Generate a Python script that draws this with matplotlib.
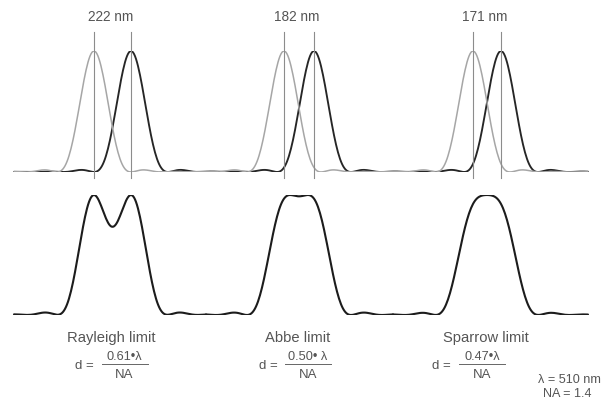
import matplotlib.pyplot as plt
import numpy as np

plt.rcParams['font.family'] = ['Liberation Sans', 'DejaVu Sans']

# intensity of a single point image, read every 6 nm outward from its centre
step_nm = 6
psf = [1.0000, 0.9973, 0.9893, 0.9761, 0.9579, 0.9348, 0.9073, 0.8756, 0.8402, 0.8015,
       0.7600, 0.7163, 0.6707, 0.6240, 0.5765, 0.5288, 0.4815, 0.4349, 0.3896, 0.3459,
       0.3041, 0.2647, 0.2278, 0.1936, 0.1623, 0.1340, 0.1087, 0.0864, 0.0671, 0.0506,
       0.0369, 0.0257, 0.0168, 0.0101, 0.0053, 0.0022, 0.0005, 0.0000, 0.0004, 0.0016,
       0.0033, 0.0053, 0.0074, 0.0096, 0.0116, 0.0135, 0.0150, 0.0162, 0.0170, 0.0174,
       0.0175, 0.0171, 0.0165, 0.0155, 0.0144, 0.0130, 0.0115, 0.0100, 0.0084, 0.0069,
       0.0055, 0.0042, 0.0030, 0.0020, 0.0012, 0.0007, 0.0003, 0.0000, 0.0000, 0.0001,
       0.0004, 0.0007, 0.0011, 0.0016, 0.0020, 0.0025, 0.0030, 0.0034, 0.0037, 0.0039,
       0.0041, 0.0042, 0.0041, 0.0040, 0.0038, 0.0036, 0.0033, 0.0029, 0.0026, 0.0022,
       0.0018, 0.0014, 0.0011, 0.0008, 0.0005, 0.0003, 0.0001, 0.0000, 0.0000, 0.0000,
       0.0001, 0.0002, 0.0003, 0.0005, 0.0006, 0.0008, 0.0010, 0.0012, 0.0013, 0.0014,
       0.0015, 0.0016, 0.0016, 0.0016, 0.0015, 0.0015, 0.0014, 0.0013, 0.0011, 0.0010,
       0.0008, 0.0007, 0.0005, 0.0004, 0.0003]

# spot centres along the line (nm), one gray/black pair per criterion
gray_spots = [564, 1704, 2838]
black_spots = [786, 1884, 3006]
sep_labels = ['222 nm', '182 nm', '171 nm']
limit_names = ['Rayleigh limit', 'Abbe limit', 'Sparrow limit']
numerators = ['0.61•λ', '0.50• λ', '0.47•λ']
x_span = (84, 3528)
panel_edges = [84, 1236, 2358, 3528]

W, H = 601, 403
fig = plt.figure(figsize=(W / 100, H / 100), dpi=100)


def axes_between(y_base, y_peak):
    # y=0 at pixel row y_base, y=1 at pixel row y_peak
    ax = fig.add_axes([0, (H - y_base) / H, 1, (y_base - y_peak) / H])
    ax.set_xlim(0, W * step_nm)
    ax.set_ylim(0, 1)
    ax.axis('off')
    return ax


def profile(center, x):
    idx = np.abs(x - center) // step_nm
    vals = np.array(psf + [0.0])
    return vals[np.minimum(idx, len(psf))]


top = axes_between(172, 51)
bot = axes_between(315, 195)

k = np.arange(-(len(psf) - 1), len(psf))
for spots, col, lw, z in [(black_spots, '#262626', 1.35, 2), (gray_spots, '#a6a6a6', 1.1, 3)]:
    for c in spots:
        x = c + k * step_nm
        keep = (x >= x_span[0]) & (x <= x_span[1])
        top.plot(x[keep], np.array(psf)[np.abs(k)][keep], color=col, lw=lw,
                 zorder=z, solid_capstyle='round')

for c in gray_spots + black_spots:
    top.plot([c, c], [-0.05, 1.16], color='#8c8c8c', lw=0.8, zorder=4, clip_on=False)

for i in range(3):
    x = np.arange(panel_edges[i], panel_edges[i + 1] + 1, step_nm)
    total = profile(gray_spots[i], x) + profile(black_spots[i], x)
    bot.plot(x, total / total.max(), color='#1c1c1c', lw=1.5, solid_capstyle='round')


def ftext(px, py, s, size, **kw):
    fig.text(px / W, 1 - py / H, s, fontsize=size, color='#555555',
             ha=kw.pop('ha', 'center'), va='center', **kw)


centers_px = [(g + b) / 2 / step_nm for g, b in zip(gray_spots, black_spots)]
d_dx = [-28, -31, -46]
frac_dx = [12, 9, -5]
for i, cx in enumerate(centers_px):
    ftext(cx - 2, 17, sep_labels[i], 9.8)
    ftext(cx - 1, 338, limit_names[i], 10.6)
    ftext(cx + d_dx[i], 366, 'd =', 9.5)
    fx = cx + frac_dx[i]
    ftext(fx, 357, numerators[i], 9.2)
    ftext(fx, 375, 'NA', 9.5)
    fig.add_artist(plt.Line2D([(fx - 23) / W, (fx + 23) / W], [1 - 364 / H, 1 - 364 / H],
                              color='#666666', lw=0.7))

ftext(538, 380, 'λ = 510 nm', 9.1, ha='left')
ftext(543, 394, 'NA = 1.4', 9.1, ha='left')

fig.savefig('out.png', dpi=100, facecolor='white')
